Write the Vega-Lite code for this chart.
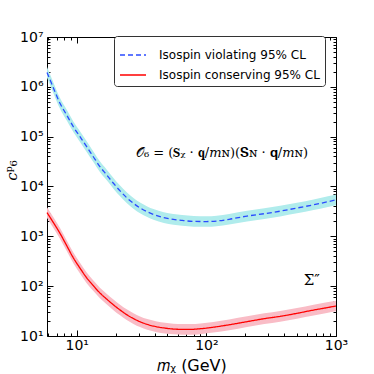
{
  "$schema": "https://vega.github.io/schema/vega-lite/v6.json",
  "width": 289,
  "height": 299,
  "autosize": "none",
  "padding": {"left": 47, "top": 37, "right": 38, "bottom": 38},
  "background": "white",
  "config": {
    "view": {"stroke": null},
    "font": "DejaVu Sans",
    "axis": {
      "grid": false,
      "domainColor": "black",
      "domainWidth": 1,
      "tickColor": "black",
      "tickWidth": 1,
      "labelFont": "DejaVu Sans",
      "labelFontSize": 14,
      "labelColor": "black",
      "titleColor": "black",
      "titleFontWeight": "normal"
    }
  },
  "datasets": {
    "curves": [
      {"series": "Isospin violating 95% CL", "m": 5.9, "c": 1950000, "lo": 1523000, "hi": 2496000},
      {"series": "Isospin violating 95% CL", "m": 6.5, "c": 1060000, "lo": 828000, "hi": 1357000},
      {"series": "Isospin violating 95% CL", "m": 7.43, "c": 467000, "lo": 365000, "hi": 598000},
      {"series": "Isospin violating 95% CL", "m": 8.4, "c": 268000, "lo": 209000, "hi": 343000},
      {"series": "Isospin violating 95% CL", "m": 9.42, "c": 158000, "lo": 123400, "hi": 202000},
      {"series": "Isospin violating 95% CL", "m": 10.6, "c": 100000, "lo": 78100, "hi": 128000},
      {"series": "Isospin violating 95% CL", "m": 11.94, "c": 63000, "lo": 49200, "hi": 80600},
      {"series": "Isospin violating 95% CL", "m": 13.4, "c": 40000, "lo": 31250, "hi": 51200},
      {"series": "Isospin violating 95% CL", "m": 15.1, "c": 25000, "lo": 19530, "hi": 32000},
      {"series": "Isospin violating 95% CL", "m": 17, "c": 17200, "lo": 13440, "hi": 22000},
      {"series": "Isospin violating 95% CL", "m": 19.2, "c": 11600, "lo": 9060, "hi": 14850},
      {"series": "Isospin violating 95% CL", "m": 21.6, "c": 8150, "lo": 6370, "hi": 10430},
      {"series": "Isospin violating 95% CL", "m": 24.3, "c": 5970, "lo": 4660, "hi": 7640},
      {"series": "Isospin violating 95% CL", "m": 27.4, "c": 4590, "lo": 3590, "hi": 5880},
      {"series": "Isospin violating 95% CL", "m": 30.8, "c": 3715, "lo": 2900, "hi": 4755},
      {"series": "Isospin violating 95% CL", "m": 35, "c": 3110, "lo": 2430, "hi": 3980},
      {"series": "Isospin violating 95% CL", "m": 39.1, "c": 2754, "lo": 2150, "hi": 3525},
      {"series": "Isospin violating 95% CL", "m": 47, "c": 2378, "lo": 1858, "hi": 3044},
      {"series": "Isospin violating 95% CL", "m": 55.7, "c": 2183, "lo": 1705, "hi": 2794},
      {"series": "Isospin violating 95% CL", "m": 65, "c": 2084, "lo": 1628, "hi": 2668},
      {"series": "Isospin violating 95% CL", "m": 80, "c": 1995, "lo": 1559, "hi": 2554},
      {"series": "Isospin violating 95% CL", "m": 100, "c": 1980, "lo": 1550, "hi": 2530},
      {"series": "Isospin violating 95% CL", "m": 120, "c": 2030, "lo": 1590, "hi": 2600},
      {"series": "Isospin violating 95% CL", "m": 150, "c": 2200, "lo": 1720, "hi": 2820},
      {"series": "Isospin violating 95% CL", "m": 206, "c": 2550, "lo": 1990, "hi": 3260},
      {"series": "Isospin violating 95% CL", "m": 280, "c": 2850, "lo": 2230, "hi": 3650},
      {"series": "Isospin violating 95% CL", "m": 371, "c": 3200, "lo": 2500, "hi": 4100},
      {"series": "Isospin violating 95% CL", "m": 500, "c": 3700, "lo": 2890, "hi": 4740},
      {"series": "Isospin violating 95% CL", "m": 672, "c": 4300, "lo": 3360, "hi": 5500},
      {"series": "Isospin violating 95% CL", "m": 850, "c": 4900, "lo": 3830, "hi": 6270},
      {"series": "Isospin violating 95% CL", "m": 1000, "c": 5400, "lo": 4220, "hi": 6910},
      {"series": "Isospin conserving 95% CL", "m": 5.9, "c": 3000, "lo": 2340, "hi": 3840},
      {"series": "Isospin conserving 95% CL", "m": 6.5, "c": 2020, "lo": 1578, "hi": 2586},
      {"series": "Isospin conserving 95% CL", "m": 7.43, "c": 1150, "lo": 898, "hi": 1472},
      {"series": "Isospin conserving 95% CL", "m": 8.4, "c": 640, "lo": 500, "hi": 819},
      {"series": "Isospin conserving 95% CL", "m": 9.42, "c": 370, "lo": 289, "hi": 474},
      {"series": "Isospin conserving 95% CL", "m": 10.6, "c": 230, "lo": 180, "hi": 294},
      {"series": "Isospin conserving 95% CL", "m": 11.94, "c": 147, "lo": 115, "hi": 188},
      {"series": "Isospin conserving 95% CL", "m": 13.4, "c": 103, "lo": 80.5, "hi": 132},
      {"series": "Isospin conserving 95% CL", "m": 15.1, "c": 73, "lo": 57, "hi": 93.4},
      {"series": "Isospin conserving 95% CL", "m": 17, "c": 55.3, "lo": 43.2, "hi": 70.8},
      {"series": "Isospin conserving 95% CL", "m": 19.2, "c": 42.2, "lo": 33.0, "hi": 54.0},
      {"series": "Isospin conserving 95% CL", "m": 21.6, "c": 33.3, "lo": 26.0, "hi": 42.6},
      {"series": "Isospin conserving 95% CL", "m": 24.3, "c": 26.8, "lo": 20.9, "hi": 34.3},
      {"series": "Isospin conserving 95% CL", "m": 27.4, "c": 22.4, "lo": 17.5, "hi": 28.7},
      {"series": "Isospin conserving 95% CL", "m": 30.8, "c": 19.3, "lo": 15.1, "hi": 24.7},
      {"series": "Isospin conserving 95% CL", "m": 35, "c": 17.1, "lo": 13.4, "hi": 21.9},
      {"series": "Isospin conserving 95% CL", "m": 41.5, "c": 15.3, "lo": 11.95, "hi": 19.6},
      {"series": "Isospin conserving 95% CL", "m": 48, "c": 14.4, "lo": 11.25, "hi": 18.4},
      {"series": "Isospin conserving 95% CL", "m": 55.7, "c": 13.8, "lo": 10.8, "hi": 17.7},
      {"series": "Isospin conserving 95% CL", "m": 65, "c": 13.6, "lo": 10.6, "hi": 17.4},
      {"series": "Isospin conserving 95% CL", "m": 75, "c": 13.6, "lo": 10.6, "hi": 17.4},
      {"series": "Isospin conserving 95% CL", "m": 90, "c": 14.0, "lo": 10.9, "hi": 17.9},
      {"series": "Isospin conserving 95% CL", "m": 113, "c": 15.0, "lo": 11.7, "hi": 19.2},
      {"series": "Isospin conserving 95% CL", "m": 150, "c": 16.8, "lo": 13.1, "hi": 21.5},
      {"series": "Isospin conserving 95% CL", "m": 206, "c": 19.4, "lo": 15.2, "hi": 24.8},
      {"series": "Isospin conserving 95% CL", "m": 280, "c": 22.3, "lo": 17.4, "hi": 28.5},
      {"series": "Isospin conserving 95% CL", "m": 371, "c": 24.8, "lo": 19.4, "hi": 31.7},
      {"series": "Isospin conserving 95% CL", "m": 500, "c": 28.5, "lo": 22.3, "hi": 36.5},
      {"series": "Isospin conserving 95% CL", "m": 672, "c": 33.2, "lo": 25.9, "hi": 42.5},
      {"series": "Isospin conserving 95% CL", "m": 850, "c": 37, "lo": 28.9, "hi": 47.4},
      {"series": "Isospin conserving 95% CL", "m": 1000, "c": 40, "lo": 31.3, "hi": 51.2}
    ],
    "notes": [
      {"m": 132, "c": 47000, "label": "𝒪₆ = (𝐒ᵪ · 𝐪/𝑚ɴ)(𝐒ɴ · 𝐪/𝑚ɴ)", "kind": "formula"},
      {"m": 650, "c": 135, "label": "Σ″", "kind": "sigma"}
    ]
  },
  "layer": [
    {
      "data": {"name": "curves"},
      "mark": {"type": "area", "interpolate": "monotone", "opacity": 1},
      "encoding": {
        "x": {
          "field": "m", "type": "quantitative",
          "scale": {"type": "log", "domain": [5.9, 1000], "nice": false},
          "axis": {
            "orient": "bottom",
            "values": [6, 7, 8, 9, 10, 20, 30, 40, 50, 60, 70, 80, 90, 100, 200, 300, 400, 500, 600, 700, 800, 900, 1000],
            "labelExpr": "datum.value == 10 ? '10¹' : datum.value == 100 ? '10²' : datum.value == 1000 ? '10³' : ''",
            "tickSize": {"condition": {"test": "indexof([10,100,1000], datum.value) >= 0", "value": -6}, "value": -3},
            "labelPadding": 8,
            "labelFlush": false,
            "labelOverlap": false,
            "title": "𝑚ᵪ (GeV)",
            "titleFontSize": 16,
            "titlePadding": 2
          }
        },
        "y": {
          "field": "lo", "type": "quantitative",
          "scale": {"type": "log", "domain": [10, 10000000], "nice": false},
          "axis": {
            "orient": "left",
            "values": [10, 20, 30, 40, 50, 60, 70, 80, 90, 100, 200, 300, 400, 500, 600, 700, 800, 900, 1000, 2000, 3000, 4000, 5000, 6000, 7000, 8000, 9000, 10000, 20000, 30000, 40000, 50000, 60000, 70000, 80000, 90000, 100000, 200000, 300000, 400000, 500000, 600000, 700000, 800000, 900000, 1000000, 2000000, 3000000, 4000000, 5000000, 6000000, 7000000, 8000000, 9000000, 10000000],
            "labelExpr": "datum.value == 10 ? '10¹' : datum.value == 100 ? '10²' : datum.value == 1000 ? '10³' : datum.value == 10000 ? '10⁴' : datum.value == 100000 ? '10⁵' : datum.value == 1000000 ? '10⁶' : datum.value == 10000000 ? '10⁷' : ''",
            "tickSize": {"condition": {"test": "indexof([10,100,1000,10000,100000,1000000,10000000], datum.value) >= 0", "value": -6}, "value": -3},
            "labelPadding": 10,
            "labelFlush": false,
            "labelOverlap": false,
            "title": "𝑐ᵖ₆",
            "titleFontSize": 15,
            "titleFont": "DejaVu Serif",
            "titleX": -28,
            "titleY": 133
          }
        },
        "y2": {"field": "hi"},
        "detail": {"field": "series", "type": "nominal"},
        "fill": {
          "condition": {"test": "datum.series == 'Isospin violating 95% CL'", "value": "#B0ECEC"},
          "value": "#F9BCC6"
        }
      }
    },
    {
      "data": {"name": "curves"},
      "mark": {"type": "line", "interpolate": "monotone", "strokeWidth": 1.3},
      "encoding": {
        "x": {"field": "m", "type": "quantitative", "axis": null},
        "y": {"field": "c", "type": "quantitative", "axis": null},
        "stroke": {
          "field": "series", "type": "nominal",
          "scale": {"domain": ["Isospin violating 95% CL", "Isospin conserving 95% CL"], "range": ["#2a4bff", "#ff0000"]},
          "legend": {
            "orient": "none", "legendX": 67, "legendY": -1, "title": null,
            "symbolType": "stroke", "symbolSize": 676, "symbolStrokeWidth": 1.6,
            "labelFontSize": 12, "labelFont": "DejaVu Sans", "labelColor": "black", "labelOffset": 12, "labelLimit": 0,
            "padding": 5, "strokeColor": "#333333", "fillColor": "white", "cornerRadius": 3, "rowPadding": -3
          }
        },
        "strokeDash": {
          "field": "series", "type": "nominal",
          "scale": {"domain": ["Isospin violating 95% CL", "Isospin conserving 95% CL"], "range": [[5, 3], [1, 0]]},
          "legend": {
            "orient": "none", "legendX": 67, "legendY": -1, "title": null,
            "symbolType": "stroke", "symbolSize": 676, "symbolStrokeWidth": 1.6,
            "labelFontSize": 12, "labelFont": "DejaVu Sans", "labelColor": "black", "labelOffset": 12, "labelLimit": 0,
            "padding": 5, "strokeColor": "#333333", "fillColor": "white", "cornerRadius": 3, "rowPadding": -3
          }
        }
      }
    },
    {
      "data": {"name": "notes"},
      "transform": [{"filter": "datum.kind == 'formula'"}],
      "mark": {"type": "text", "font": "DejaVu Serif", "fontSize": 13, "align": "center", "baseline": "middle", "color": "black"},
      "encoding": {
        "x": {"field": "m", "type": "quantitative", "axis": null},
        "y": {"field": "c", "type": "quantitative", "axis": null},
        "text": {"field": "label"}
      }
    },
    {
      "data": {"name": "notes"},
      "transform": [{"filter": "datum.kind == 'sigma'"}],
      "mark": {"type": "text", "font": "DejaVu Serif", "fontSize": 15, "align": "center", "baseline": "middle", "color": "black"},
      "encoding": {
        "x": {"field": "m", "type": "quantitative", "axis": null},
        "y": {"field": "c", "type": "quantitative", "axis": null},
        "text": {"field": "label"}
      }
    },
    {
      "data": {"name": "curves"},
      "mark": {"type": "point", "opacity": 0},
      "encoding": {
        "x": {
          "field": "m", "type": "quantitative",
          "axis": {
            "orient": "top",
            "values": [6, 7, 8, 9, 10, 20, 30, 40, 50, 60, 70, 80, 90, 100, 200, 300, 400, 500, 600, 700, 800, 900, 1000],
            "labels": false,
            "tickSize": {"condition": {"test": "indexof([10,100,1000], datum.value) >= 0", "value": -6}, "value": -3},
            "title": null
          }
        },
        "y": {
          "field": "c", "type": "quantitative",
          "axis": {
            "orient": "right",
            "values": [10, 20, 30, 40, 50, 60, 70, 80, 90, 100, 200, 300, 400, 500, 600, 700, 800, 900, 1000, 2000, 3000, 4000, 5000, 6000, 7000, 8000, 9000, 10000, 20000, 30000, 40000, 50000, 60000, 70000, 80000, 90000, 100000, 200000, 300000, 400000, 500000, 600000, 700000, 800000, 900000, 1000000, 2000000, 3000000, 4000000, 5000000, 6000000, 7000000, 8000000, 9000000, 10000000],
            "labels": false,
            "tickSize": {"condition": {"test": "indexof([10,100,1000,10000,100000,1000000,10000000], datum.value) >= 0", "value": -6}, "value": -3},
            "title": null
          }
        }
      }
    }
  ],
  "resolve": {"axis": {"x": "independent", "y": "independent"}}
}
